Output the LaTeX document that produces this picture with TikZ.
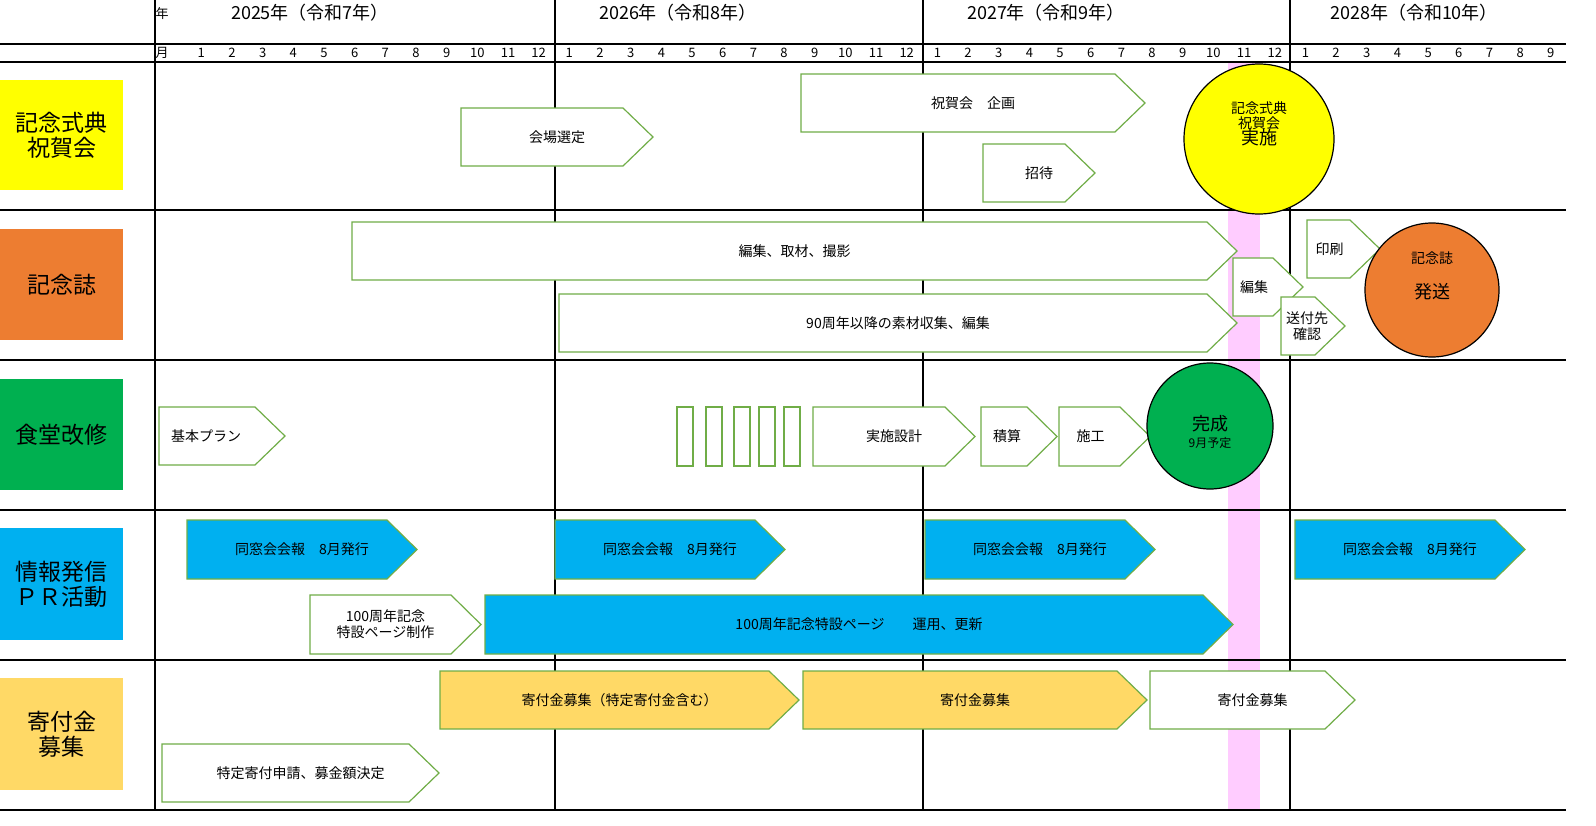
\documentclass[tikz,border=0pt]{standalone}
\usepackage{fontspec}
\setmainfont{Noto Sans CJK JP}
\definecolor{arrgreen}{HTML}{70AD47}
\definecolor{cyel}{HTML}{FFFF00}
\definecolor{corg}{HTML}{ED7D31}
\definecolor{cgrn}{HTML}{00B050}
\definecolor{cblu}{HTML}{00B0F0}
\definecolor{cgld}{HTML}{FFD966}
\definecolor{cpink}{HTML}{FFCCFF}
\newcommand\arrw[8]{% name x1 x2 y1 y2 fill text
  \filldraw[ar,fill=#6] (#2,#4)--({#3-30},#4)--(#3,{(#4+#5)/2})--({#3-30},#5)--(#2,#5)--cycle;%
  \node[lab,#8] (#1) at ({(#2+#3)/2},{(#4+#5)/2}) {#7};}
\begin{document}
\begin{tikzpicture}[x=0.5pt,y=-0.5pt,
  ar/.style={draw=arrgreen,line width=0.6pt},
  lab/.style={font=\fontsize{7}{8}\selectfont,align=center,inner sep=0pt},
  side/.style={font=\fontsize{11.5}{12.5}\selectfont,align=center,inner sep=0pt},
  yr/.style={font=\fontsize{9}{10}\selectfont,inner sep=0pt},
  mo/.style={font=\fontsize{6.5}{7}\selectfont,inner sep=0pt}]
\clip (0,0) rectangle (1596,825);
\fill[white] (0,0) rectangle (1596,825);
\fill[cpink] (1228,62) rectangle (1260,810);
% grid
\draw[line width=0.6pt] (0,44)--(1566,44) (0,62)--(1566,62);
\foreach \yy in {210,360,510,660,810} \draw[line width=0.6pt] (0,\yy)--(1566,\yy);
\foreach \xx in {155,555,923,1290} \draw[line width=0.6pt] (\xx,0)--(\xx,810);
% headers
\node[mo] (nen) at (162,14) {年};
\node[mo] (tsuki) at (162,53) {月};
\node[yr] (y25) at (310,13) {2025年（令和7年）};
\node[yr] (y26) at (678,13) {2026年（令和8年）};
\node[yr] (y27) at (1046,13) {2027年（令和9年）};
\node[yr] (y28) at (1414,13) {2028年（令和10年）};
\foreach \y/\n in {0/12,1/12,2/12,3/9}
  \foreach \m in {1,...,\n}
    \node[mo] (m\y-\m) at ({186+30.67*(\y*12+\m-1)+15.3},53) {\m};
% side labels
\fill[cyel] (0,80) rectangle (123,190); \node[side] (s1) at (61.5,135) {記念式典\\祝賀会};
\fill[corg] (0,229) rectangle (123,340); \node[side] (s2) at (61.5,285) {記念誌};
\fill[cgrn] (0,379) rectangle (123,490); \node[side] (s3) at (61.5,435) {食堂改修};
\fill[cblu] (0,528) rectangle (123,640); \node[side] (s4) at (61.5,584) {情報発信\\ＰＲ活動};
\fill[cgld] (0,678) rectangle (123,790); \node[side] (s5) at (61.5,734) {寄付金\\募集};
% row 1
\arrw{a1}{461}{653}{108}{166}{white}{会場選定}{}
\arrw{a2}{801}{1145}{74}{132}{white}{祝賀会　企画}{}
\arrw{a3}{983}{1095}{144}{202}{white}{招待}{}
\filldraw[fill=cyel,draw=black,line width=0.6pt] (1259,139) circle (75);
\node[lab,font=\fontsize{7}{7.5}\selectfont] (c1) at (1259,124) {記念式典\\祝賀会\\[-1pt]{\fontsize{9}{10}\selectfont 実施}};
% row 2
\arrw{b1}{352}{1237}{222}{280}{white}{編集、取材、撮影}{}
\arrw{b2}{559}{1237}{294}{352}{white}{90周年以降の素材収集、編集}{}
\arrw{b3}{1233}{1303}{258}{316}{white}{編集}{xshift=-7pt}
\arrw{b4}{1307}{1380}{220}{278}{white}{印刷}{xshift=-7pt}
\arrw{b5}{1281}{1345}{297}{355}{white}{送付先\\確認}{xshift=-3pt}
\filldraw[fill=corg,draw=black,line width=0.6pt] (1432,290) circle (67);
\node[lab] (c2) at (1432,258) {記念誌};
\node[lab,font=\fontsize{9}{10}\selectfont] (c2b) at (1432,292) {発送};
% row 3
\arrw{d1}{159}{285}{407}{465}{white}{基本プラン}{xshift=-8pt}
\foreach \a in {677,706,734,759,784}
  \draw[ar] (\a,407) rectangle ({\a+16},466);
\arrw{d2}{813}{975}{407}{466}{white}{実施設計}{}
\arrw{d3}{981}{1057}{407}{466}{white}{積算}{xshift=-6pt}
\arrw{d4}{1059}{1150}{407}{466}{white}{施工}{xshift=-7pt}
\filldraw[fill=cgrn,draw=black,line width=0.6pt] (1210,426) circle (63);
\node[lab,font=\fontsize{9}{10}\selectfont] (c3) at (1210,424) {完成};
\node[lab,font=\fontsize{6}{7}\selectfont] (c3b) at (1210,443) {9月予定};
% row 4
\arrw{e1}{187}{417}{520}{579}{cblu}{同窓会会報　8月発行}{}
\arrw{e2}{555}{785}{520}{579}{cblu}{同窓会会報　8月発行}{}
\arrw{e3}{925}{1155}{520}{579}{cblu}{同窓会会報　8月発行}{}
\arrw{e4}{1295}{1525}{520}{579}{cblu}{同窓会会報　8月発行}{}
\arrw{e5}{310}{481}{595}{654}{white}{100周年記念\\特設ページ制作}{xshift=-5pt}
\arrw{e6}{485}{1233}{595}{654}{cblu}{100周年記念特設ページ　　運用、更新}{}
% row 5
\arrw{f1}{440}{799}{671}{729}{cgld}{寄付金募集（特定寄付金含む）}{}
\arrw{f2}{803}{1147}{671}{729}{cgld}{寄付金募集}{}
\arrw{f3}{1150}{1355}{671}{729}{white}{寄付金募集}{}
\arrw{f4}{162}{439}{744}{802}{white}{特定寄付申請、募金額決定}{}
\end{tikzpicture}
\end{document}
